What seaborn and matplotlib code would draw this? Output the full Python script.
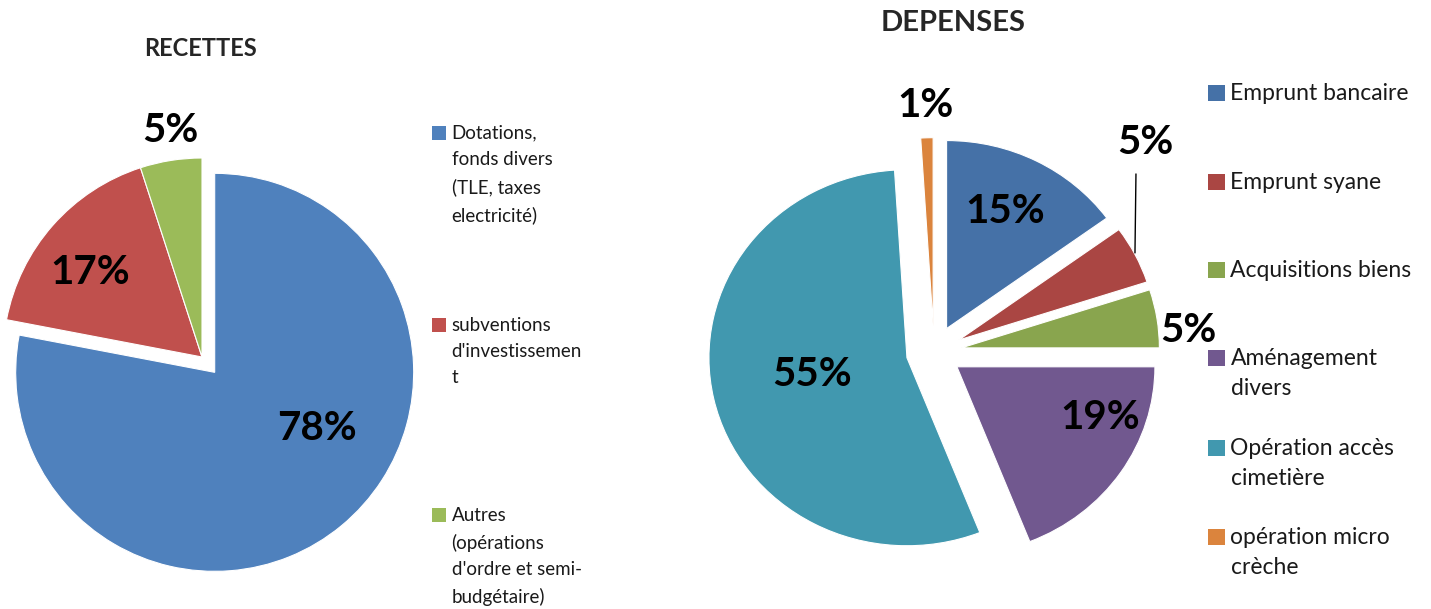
import matplotlib
matplotlib.use("Agg")
import matplotlib.pyplot as plt
from matplotlib.patches import Rectangle
import seaborn as sns

# data
recettes_labels = ["Dotations,\nfonds divers\n(TLE, taxes\nelectricité)",
                   "subventions\nd'investissemen\nt",
                   "Autres\n(opérations\nd'ordre et semi-\nbudgétaire)"]
recettes_values = [78, 17, 5]
recettes_colors = ["#4F81BD", "#C0504D", "#9BBB59"]

depenses_labels = ["Emprunt bancaire", "Emprunt syane", "Acquisitions biens",
                   "Aménagement\ndivers", "Opération accès\ncimetière",
                   "opération micro\ncrèche"]
depenses_values = [15, 5, 5, 19, 55, 1]
depenses_colors = ["#4571A7", "#AA4643", "#89A54E", "#71588F", "#4198AF", "#DB843D"]

sns.set_theme(style="white")
plt.rcParams['font.family'] = ['Lato', 'DejaVu Sans']

W, H = 1431, 609
fig = plt.figure(figsize=(W / 100, H / 100), dpi=100)
HALF = 1.5


def pie_axes(cx, cy, rx, ry):
    # axes placed so that radius 1 maps to rx / ry pixels around (cx, cy)
    return fig.add_axes([(cx - HALF * rx) / W, (H - cy - HALF * ry) / H,
                         2 * HALF * rx / W, 2 * HALF * ry / H])


def draw_pie(ax, values, colors, explode, label_pos):
    ax.pie(values, colors=sns.color_palette(colors), startangle=90, counterclock=False,
           explode=explode, radius=1,
           wedgeprops=dict(edgecolor="white", linewidth=0.8))
    ax.set_aspect("auto")
    ax.set_xlim(-HALF, HALF)
    ax.set_ylim(-HALF, HALF)
    for v, (x, y) in zip(values, label_pos):
        ax.text(x, y, f"{v}%", ha="center", va="center", fontsize=29,
                fontweight="bold", color="black")


def draw_legend(labels, colors, x_box, first_lines, size, ls):
    box = size
    for lab, c, y in zip(labels, colors, first_lines):
        fig.add_artist(Rectangle((x_box / W, 1 - (y + box / 2) / H), box / W, box / H,
                                 transform=fig.transFigure, color=c, lw=0))
        fig.text((x_box + box + 6) / W, 1 - (y - size * 0.62) / H, lab, ha="left",
                 va="top", fontsize=size, color="#1a1a1a", linespacing=ls)


# RECETTES
ax1 = pie_axes(202, 357, 199, 199)
draw_pie(ax1, recettes_values, recettes_colors, [0.1, 0, 0],
         [(0.578, -0.357), (-0.563, 0.427), (-0.161, 1.136)])
fig.text(200 / W, 1 - 48 / H, "RECETTES", ha="center", va="center",
         fontsize=17, fontweight="bold")
draw_legend(recettes_labels, recettes_colors, 432, [133, 325, 515], 13.5, 1.67)

# DEPENSES
ax2 = pie_axes(934, 352, 198, 188)
draw_pie(ax2, depenses_values, depenses_colors, [0.14] * 6,
         [(0.359, 0.745), (1.066, 1.112), (1.283, 0.117),
          (0.838, -0.351), (-0.616, -0.122), (-0.045, 1.309)])
ax2.plot([1.020, 1.015], [0.947, 0.527], color="black", lw=1)
fig.text(953 / W, 1 - 23 / H, "DEPENSES", ha="center", va="center",
         fontsize=21, fontweight="bold")
draw_legend(depenses_labels, depenses_colors, 1208,
            [93, 182, 270, 358, 448, 537], 16.5, 1.52)

fig.savefig("out.png", dpi=100)
